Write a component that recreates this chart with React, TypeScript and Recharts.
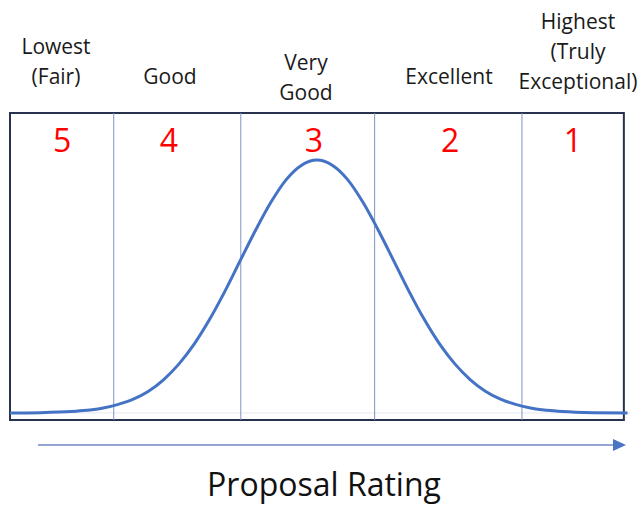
import { LineChart, Line, XAxis, YAxis, ReferenceArea, ReferenceLine, ReferenceDot } from 'recharts'

// rating scale: 5 = lowest ... 1 = highest
const RATINGS = [5, 4, 3, 2, 1]
const RATING_NAMES = [
    ['Lowest', '(Fair)'],
    ['Good'],
    ['Very', 'Good'],
    ['Excellent'],
    ['Highest', '(Truly', 'Exceptional)'],
]
// column boundaries on the 0-100 horizontal scale
const BOUNDARIES = [16.9, 37.6, 59.4, 83.4]

// bell curve (x 0-100, y 0-100 of the box height)
const CURVE_X = [0, 5, 10, 12.5, 15, 17.5, 20, 22.5, 25, 27.5, 30, 32.5, 35, 37.5, 40, 42.5, 45, 47.5, 50,
    52.5, 55, 57.5, 60, 62.5, 65, 67.5, 70, 72.5, 75, 77.5, 80, 82.5, 85, 87.5, 90, 95, 100.6]
const CURVE_Y = [2.3, 2.4, 2.75, 3.15, 3.8, 5.0, 6.7, 9.3, 13.1, 18.2, 24.7, 32.7, 41.9, 51.9, 61.8, 70.9, 78.3, 83.0, 84.7,
    83.0, 78.3, 70.9, 61.8, 51.9, 41.9, 32.7, 24.7, 18.2, 13.1, 9.3, 6.7, 5.0, 3.8, 3.15, 2.75, 2.4, 2.3]

const AXIS_TITLE = 'Proposal Rating'

const curveData = CURVE_X.map((x, i) => ({ x, y: CURVE_Y[i] }))

// layout
const W = 642
const H = 507
const NUMBER_X = [8.5, 25.9, 49.5, 71.7, 91.7]
const NUMBER_Y = 91
const NAME_X = [56, 170, 306, 449, 578]
const NAME_TOP = [46, 76, 62, 76, 21]
const LINE_GAP = 30
const FONT = '"Open Sans", sans-serif'

const App = () => {
    return (
        <div style={{ position: 'relative', width: W, height: H, overflow: 'hidden', background: '#fff' }}>
            <style>{'body{margin:0}'}</style>
            <LineChart width={W} height={H} data={curveData} margin={{ top: 113, right: 12, bottom: 87, left: 10 }}>
                <XAxis type="number" dataKey="x" domain={[0, 101]} hide />
                <YAxis type="number" domain={[0, 100]} hide />
                <ReferenceLine y={2.3} stroke="#e6e8ee" strokeWidth={1} />
                {BOUNDARIES.map((b) => (
                    <ReferenceLine key={b} x={b} stroke="#7f93c2" strokeWidth={1} />
                ))}
                <ReferenceArea x1={0} x2={100} y1={0} y2={100} fill="none" stroke="#27324f" strokeWidth={2} fillOpacity={0} />
                {RATINGS.map((r, i) => (
                    <ReferenceDot
                        key={r}
                        x={NUMBER_X[i]}
                        y={NUMBER_Y}
                        r={0}
                        stroke="none"
                        label={{ value: String(r), position: 'center', fill: '#ff0000', fontSize: 32, fontFamily: FONT }}
                    />
                ))}
                <Line
                    type="monotone"
                    dataKey="y"
                    stroke="#4472c4"
                    strokeWidth={3}
                    dot={false}
                    isAnimationActive={false}
                />
            </LineChart>
            <svg width={W} height={H} style={{ position: 'absolute', left: 0, top: 0, pointerEvents: 'none' }}>
                {RATING_NAMES.map((lines, i) =>
                    lines.map((t, j) => (
                        <text
                            key={`${i}-${j}`}
                            x={NAME_X[i]}
                            y={NAME_TOP[i] + j * LINE_GAP}
                            textAnchor="middle"
                            dominantBaseline="central"
                            fontFamily={FONT}
                            fontSize={21}
                            fill="#1a1a1a"
                        >
                            {t}
                        </text>
                    ))
                )}
                <line x1={38} y1={445} x2={614} y2={445} stroke="#95a6d4" strokeWidth={2} />
                <polygon points="613,439 626,445 613,451" fill="#4a74c4" />
                <text x={324} y={496} textAnchor="middle" fontFamily={FONT} fontSize={32} fill="#111">
                    {AXIS_TITLE}
                </text>
            </svg>
        </div>
    )
}

export default App
